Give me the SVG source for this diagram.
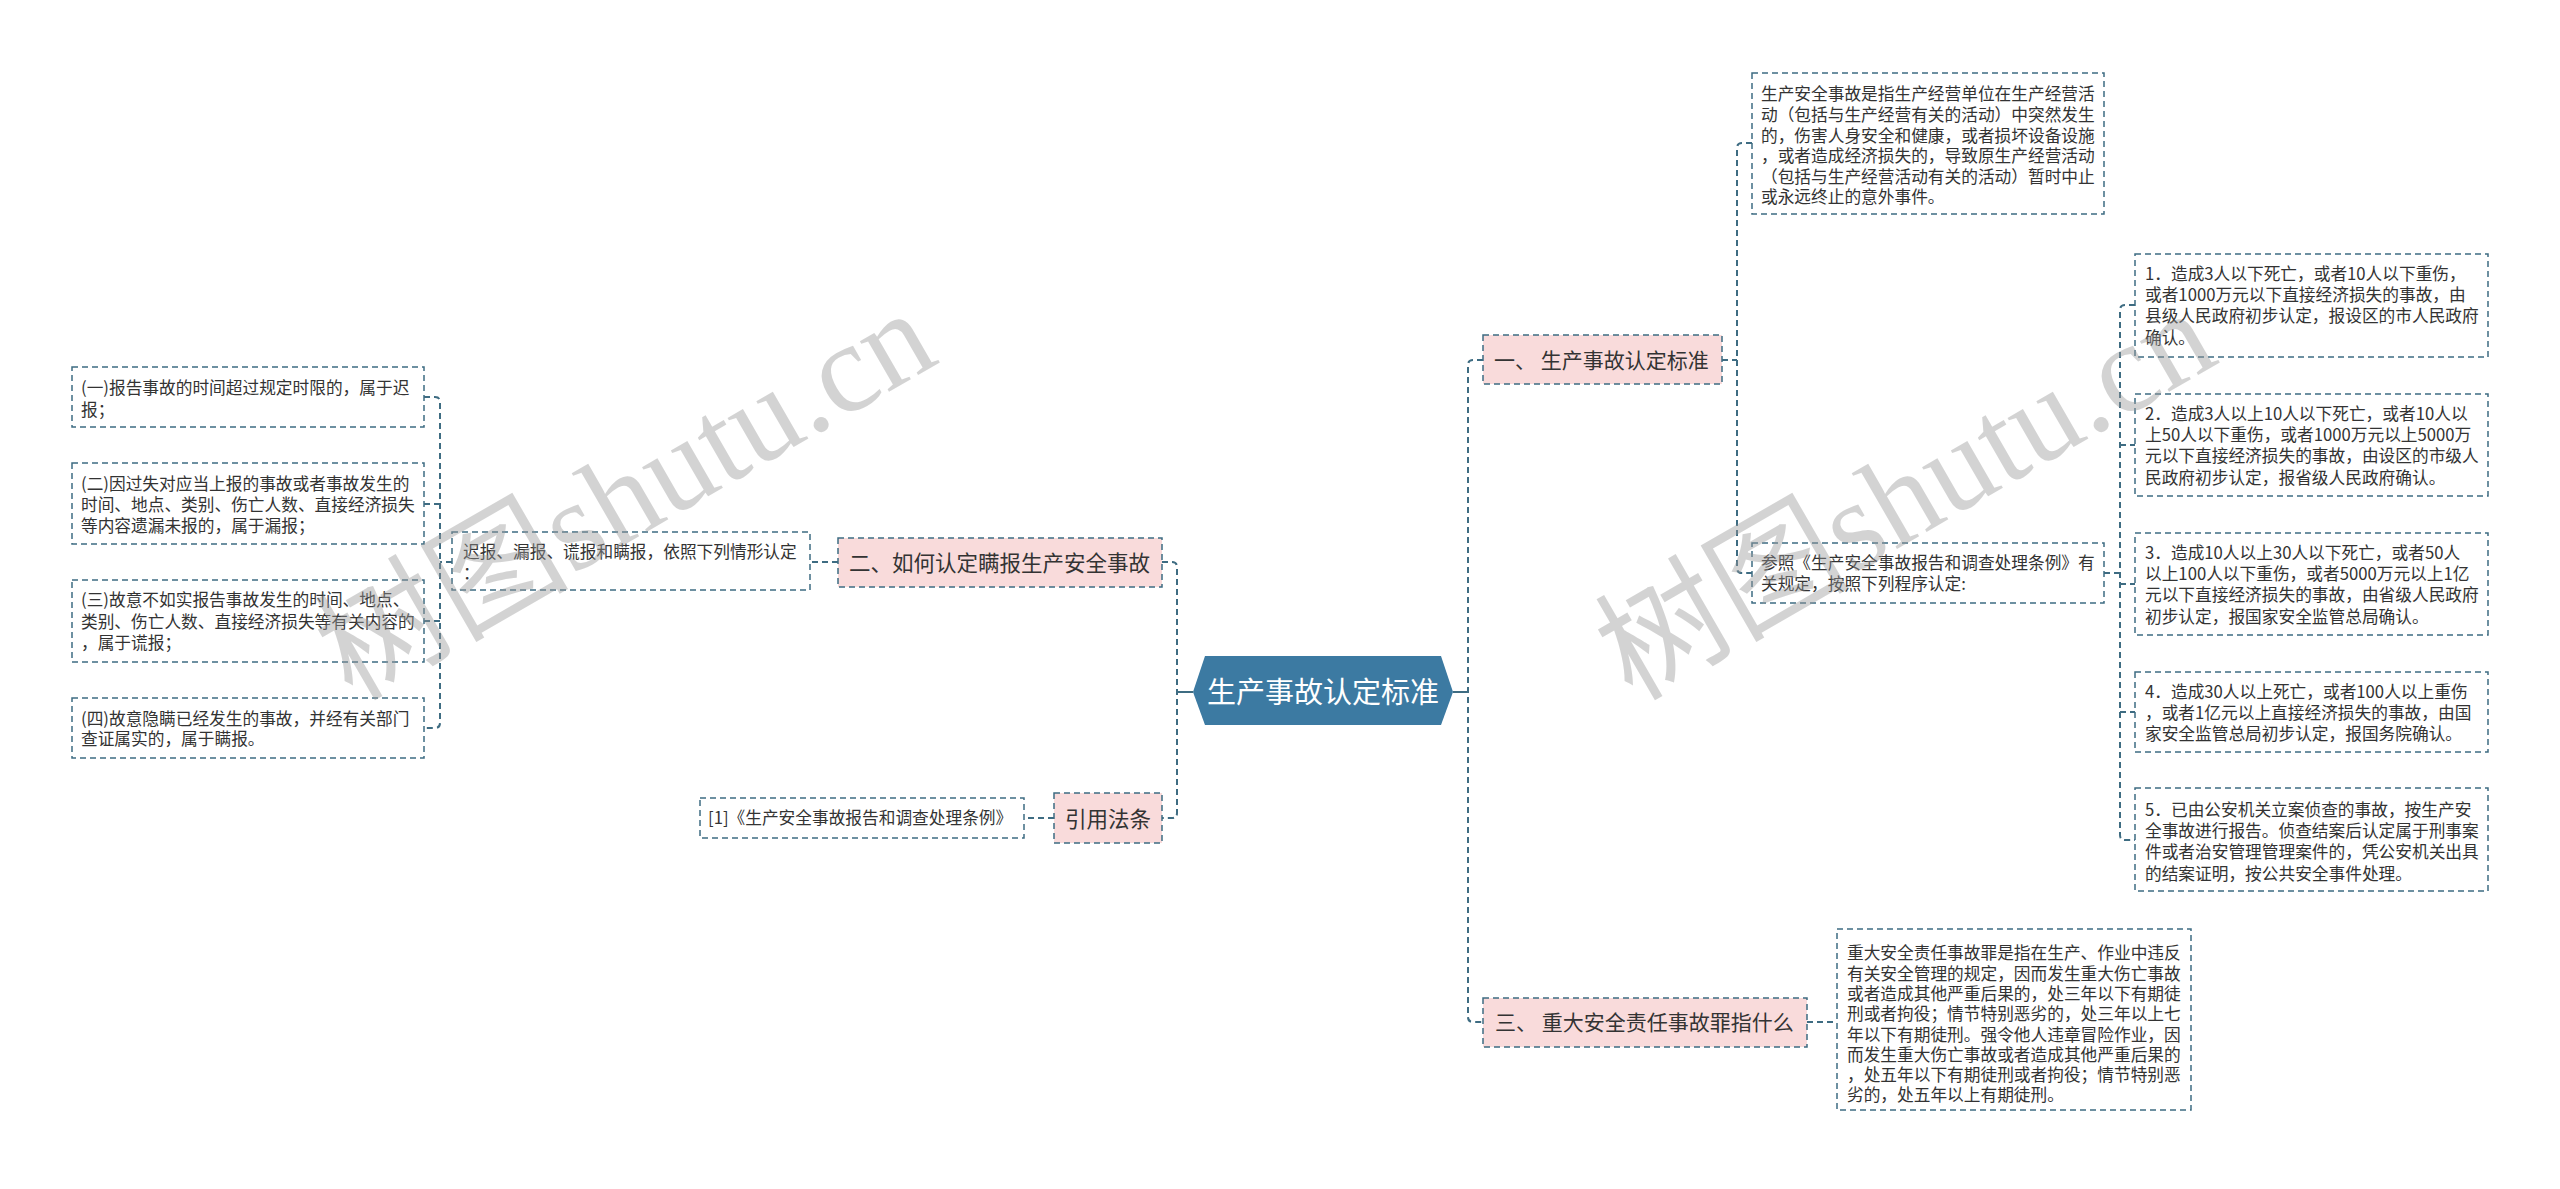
<svg xmlns="http://www.w3.org/2000/svg" width="2560" height="1189" viewBox="0 0 2560 1189">
<style>
.box{fill:#fff;stroke:#3e6c82;stroke-width:1.5;stroke-dasharray:6 4}
.pink{fill:#f9dbdb;stroke:#3e6c82;stroke-width:1.5;stroke-dasharray:6 4}
.conn{fill:none;stroke:#3e6c82;stroke-width:2;stroke-dasharray:6 4}
.solid{fill:none;stroke:#3e6c82;stroke-width:2}
.t{font-family:"Noto Sans CJK SC","Liberation Sans",sans-serif;font-size:16.7px;fill:#333}
.tm{font-family:"Noto Sans CJK SC","Liberation Sans",sans-serif;font-size:21px;fill:#333}
.tb{font-family:"Noto Sans CJK SC","Liberation Sans",sans-serif;font-size:21.5px;fill:#333}
.wm{font-family:"Liberation Serif","Noto Sans CJK SC",serif;font-size:127px;fill:#999;opacity:0.42}
</style>
<rect width="2560" height="1189" fill="#fff"/>
<g id="connectors">
<path class="solid" d="M1453,692 H1468"/>
<path class="conn" d="M1483,360 H1473 Q1468,360 1468,365 V1017 Q1468,1022 1473,1022 H1483"/>
<path class="conn" d="M1722,360 H1737"/>
<path class="conn" d="M1752,143 H1742 Q1737,143 1737,148 V568 Q1737,573 1742,573 H1752"/>
<path class="conn" d="M2104,573 H2120"/>
<path class="conn" d="M2135,305 H2125 Q2120,305 2120,310 V835 Q2120,840 2125,840 H2135"/>
<path class="conn" d="M2120,445 H2135 M2120,584 H2135 M2120,712 H2135"/>
<path class="conn" d="M1807,1022 H1837"/>
<path class="solid" d="M1193,692 H1177"/>
<path class="conn" d="M1162,562 H1172 Q1177,562 1177,567 V813 Q1177,818 1172,818 H1162"/>
<path class="conn" d="M838,562 H810"/>
<path class="conn" d="M1054,818 H1024"/>
<path class="conn" d="M452,562 H440"/>
<path class="conn" d="M424,397 H435 Q440,397 440,402 V723 Q440,728 435,728 H424"/>
<path class="conn" d="M424,504 H440 M424,621 H440"/>
</g>
<g id="root">
<polygon points="1193,692 1205,656 1441,656 1453,692 1441,725 1205,725" fill="#3c7aa2"/>
<text x="1323" y="703" text-anchor="middle" font-family="Noto Sans CJK SC, sans-serif" font-size="29" fill="#fff">生产事故认定标准</text>
</g>
<g id="n1">
<rect class="pink" x="1483" y="335" width="239" height="49"/>
<text class="tm" x="1494" y="368">一、 生产事故认定标准</text>
</g>
<g id="n1a">
<rect class="box" x="1752" y="73" width="352" height="141"/>
<text class="t"><tspan x="1761" y="100.3">生产安全事故是指生产经营单位在生产经营活</tspan><tspan x="1761" y="120.9">动（包括与生产经营有关的活动）中突然发生</tspan><tspan x="1761" y="141.5">的，伤害人身安全和健康，或者损坏设备设施</tspan><tspan x="1761" y="162.1">，或者造成经济损失的，导致原生产经营活动</tspan><tspan x="1761" y="182.7">（包括与生产经营活动有关的活动）暂时中止</tspan><tspan x="1761" y="203.3">或永远终止的意外事件。</tspan></text>
</g>
<g id="n1b">
<rect class="box" x="1752" y="543" width="352" height="60"/>
<text class="t"><tspan x="1761" y="569.3">参照《生产安全事故报告和调查处理条例》有</tspan><tspan x="1761" y="590">关规定，按照下列程序认定:</tspan></text>
</g>
<g id="r1">
<rect class="box" x="2135" y="254" width="353" height="103"/>
<text class="t"><tspan x="2145" y="279.8">1．造成3人以下死亡，或者10人以下重伤，</tspan><tspan x="2145" y="301.1">或者1000万元以下直接经济损失的事故，由</tspan><tspan x="2145" y="322.4">县级人民政府初步认定，报设区的市人民政府</tspan><tspan x="2145" y="343.7">确认。</tspan></text>
</g>
<g id="r2">
<rect class="box" x="2135" y="394" width="353" height="102"/>
<text class="t"><tspan x="2145" y="419.8">2．造成3人以上10人以下死亡，或者10人以</tspan><tspan x="2145" y="441.1">上50人以下重伤，或者1000万元以上5000万</tspan><tspan x="2145" y="462.4">元以下直接经济损失的事故，由设区的市级人</tspan><tspan x="2145" y="483.7">民政府初步认定，报省级人民政府确认。</tspan></text>
</g>
<g id="r3">
<rect class="box" x="2135" y="533" width="353" height="102"/>
<text class="t"><tspan x="2145" y="558.8">3．造成10人以上30人以下死亡，或者50人</tspan><tspan x="2145" y="580.1">以上100人以下重伤，或者5000万元以上1亿</tspan><tspan x="2145" y="601.4">元以下直接经济损失的事故，由省级人民政府</tspan><tspan x="2145" y="622.7">初步认定，报国家安全监管总局确认。</tspan></text>
</g>
<g id="r4">
<rect class="box" x="2135" y="672" width="353" height="80"/>
<text class="t"><tspan x="2145" y="697.8">4．造成30人以上死亡，或者100人以上重伤</tspan><tspan x="2145" y="719.1">，或者1亿元以上直接经济损失的事故，由国</tspan><tspan x="2145" y="740.4">家安全监管总局初步认定，报国务院确认。</tspan></text>
</g>
<g id="r5">
<rect class="box" x="2135" y="788" width="353" height="103"/>
<text class="t"><tspan x="2145" y="815.8">5．已由公安机关立案侦查的事故，按生产安</tspan><tspan x="2145" y="837.1">全事故进行报告。侦查结案后认定属于刑事案</tspan><tspan x="2145" y="858.4">件或者治安管理管理案件的，凭公安机关出具</tspan><tspan x="2145" y="879.7">的结案证明，按公共安全事件处理。</tspan></text>
</g>
<g id="n3">
<rect class="pink" x="1483" y="998" width="324" height="49"/>
<text class="tm" x="1495" y="1030">三、 重大安全责任事故罪指什么</text>
</g>
<g id="n3a">
<rect class="box" x="1837" y="929" width="354" height="181"/>
<text class="t"><tspan x="1847" y="959.3">重大安全责任事故罪是指在生产、作业中违反</tspan><tspan x="1847" y="979.6">有关安全管理的规定，因而发生重大伤亡事故</tspan><tspan x="1847" y="999.9">或者造成其他严重后果的，处三年以下有期徒</tspan><tspan x="1847" y="1020.2">刑或者拘役；情节特别恶劣的，处三年以上七</tspan><tspan x="1847" y="1040.5">年以下有期徒刑。强令他人违章冒险作业，因</tspan><tspan x="1847" y="1060.8">而发生重大伤亡事故或者造成其他严重后果的</tspan><tspan x="1847" y="1081.1">，处五年以下有期徒刑或者拘役；情节特别恶</tspan><tspan x="1847" y="1101.4">劣的，处五年以上有期徒刑。</tspan></text>
</g>
<g id="n2">
<rect class="pink" x="838" y="538" width="324" height="49"/>
<text class="tb" x="849" y="570.5">二、如何认定瞒报生产安全事故</text>
</g>
<g id="n2a">
<rect class="box" x="452" y="532" width="358" height="58"/>
<text class="t"><tspan x="463" y="557.5">迟报、漏报、谎报和瞒报，依照下列情形认定</tspan><tspan x="463" y="579">：</tspan></text>
</g>
<g id="l1">
<rect class="box" x="72" y="367" width="352" height="60"/>
<text class="t"><tspan x="81" y="394.3">(一)报告事故的时间超过规定时限的，属于迟</tspan><tspan x="81" y="415.6">报；</tspan></text>
</g>
<g id="l2">
<rect class="box" x="72" y="463" width="352" height="81"/>
<text class="t"><tspan x="81" y="489.6">(二)因过失对应当上报的事故或者事故发生的</tspan><tspan x="81" y="510.9">时间、地点、类别、伤亡人数、直接经济损失</tspan><tspan x="81" y="532.2">等内容遗漏未报的，属于漏报；</tspan></text>
</g>
<g id="l3">
<rect class="box" x="72" y="580" width="352" height="82"/>
<text class="t"><tspan x="81" y="606.3">(三)故意不如实报告事故发生的时间、地点、</tspan><tspan x="81" y="627.6">类别、伤亡人数、直接经济损失等有关内容的</tspan><tspan x="81" y="648.9">，属于谎报；</tspan></text>
</g>
<g id="l4">
<rect class="box" x="72" y="698" width="352" height="60"/>
<text class="t"><tspan x="81" y="724.6">(四)故意隐瞒已经发生的事故，并经有关部门</tspan><tspan x="81" y="745.2">查证属实的，属于瞒报。</tspan></text>
</g>
<g id="n4">
<rect class="pink" x="1054" y="793" width="108" height="50"/>
<text class="tb" x="1108" y="826.5" text-anchor="middle" font-size="22">引用法条</text>
</g>
<g id="n4a">
<rect class="box" x="700" y="798" width="324" height="40"/>
<text class="t" x="708" y="824.3">[1]《生产安全事故报告和调查处理条例》</text>
</g>
<g id="watermark">
<text class="wm" x="352" y="702" transform="rotate(-30 352 702)">树图shutu.cn</text>
<text class="wm" x="1632" y="702" transform="rotate(-30 1632 702)">树图shutu.cn</text>
</g>
</svg>
